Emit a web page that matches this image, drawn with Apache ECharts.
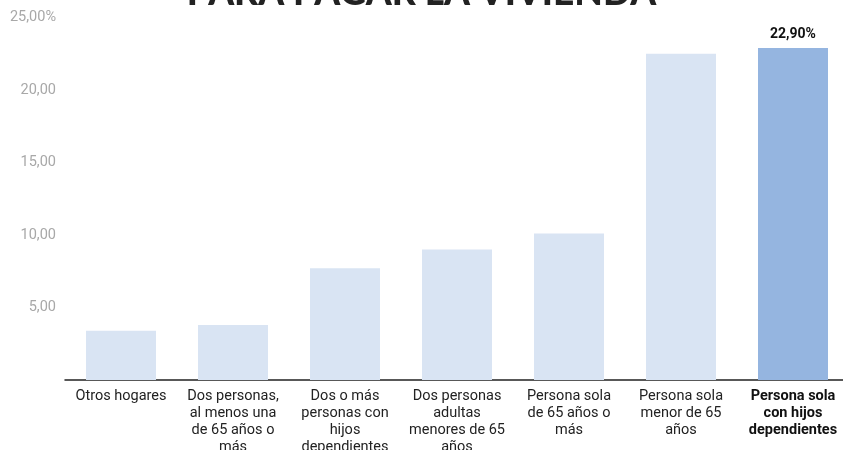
<!DOCTYPE html>
<html><head><meta charset="utf-8">
<script src="https://cdn.jsdelivr.net/npm/echarts@6/dist/echarts.min.js"></script>
<style>html,body{margin:0;padding:0;background:#fff}#c{width:843px;height:450px}</style>
</head><body><div id="c"></div>
<script>
const titleText = 'PARA PAGAR LA VIVIENDA';
const categories = ['Otros hogares','Dos personas,\nal menos una\nde 65 años o\nmás','Dos o más\npersonas con\nhijos\ndependientes','Dos personas\nadultas\nmenores de 65\naños','Persona sola\nde 65 años o\nmás','Persona sola\nmenor de 65\naños','Persona sola\ncon hijos\ndependientes'];
const values = [3.4, 3.8, 7.7, 9.0, 10.1, 22.5, 22.9];
const highlightIndex = 6;
const yTicks = [0, 5, 10, 15, 20, 25];

const chart = echarts.init(document.getElementById('c'), null, {renderer:'canvas'});
chart.setOption({
  animation:false,
  title:{text:titleText,left:'center',top:-30,textStyle:{fontFamily:'Lato',fontWeight:900,fontSize:37,color:'#222'}},
  grid:{left:65,width:784,top:17.5,bottom:70,containLabel:false,outerBoundsMode:'none'},
  xAxis:{type:'category',data:categories,
    axisLine:{lineStyle:{color:'#222',width:1.5}},axisTick:{show:false},
    axisLabel:{interval:0,margin:8,fontFamily:'Roboto',fontSize:14.5,lineHeight:17,color:'#222',
      formatter:(v,i)=> i===highlightIndex ? '{b|'+v.split('\n').join('}\n{b|')+'}' : v,
      rich:{b:{fontWeight:'bold',fontFamily:'Roboto',fontSize:14.5,lineHeight:17,color:'#111'}}}},
  yAxis:{type:'value',min:0,max:25,interval:5,splitLine:{show:false},axisLine:{show:false},axisTick:{show:false},
    axisLabel:{margin:9,fontFamily:'Roboto',fontSize:14.5,color:'#a8a8a8',
      formatter:v=> v===0?'': (v===25? v.toFixed(2).replace('.',',')+'%' : v.toFixed(2).replace('.',','))}},
  series:[{type:'bar',barWidth:'62.5%',
    data:values.map((v,i)=>({value:v,itemStyle:{color:i===highlightIndex?'#95b5e0':'#d9e4f3'},
      label:{show:i===highlightIndex,position:'top',distance:6,formatter:p=>p.value.toFixed(2).replace('.',',')+'%',
        fontFamily:'Roboto',fontWeight:'bold',fontSize:14,color:'#111'}}))}]
});
</script></body></html>
